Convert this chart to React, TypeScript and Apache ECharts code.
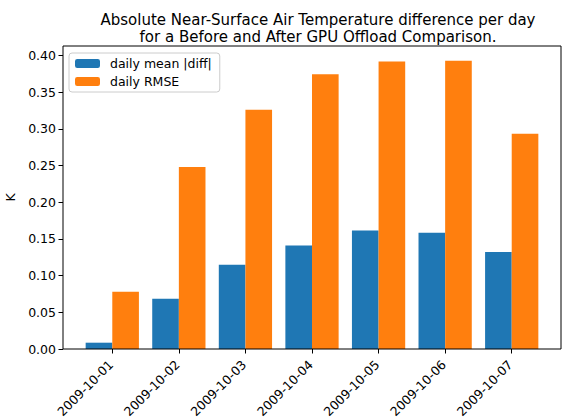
import React, { useEffect, useRef } from "react";
import * as echarts from "echarts";

const dates = ["2009-10-01", "2009-10-02", "2009-10-03", "2009-10-04", "2009-10-05", "2009-10-06", "2009-10-07"];
const meanDiff = [0.0086, 0.0685, 0.1148, 0.1412, 0.1616, 0.1584, 0.1321];
const rmse = [0.078, 0.248, 0.326, 0.3746, 0.3919, 0.3928, 0.2933];
const yTicks = [0, 0.05, 0.1, 0.15, 0.2, 0.25, 0.3, 0.35, 0.4];

const FONT = "DejaVu Sans";

export default function App() {
  const ref = useRef<HTMLDivElement>(null);
  useEffect(() => {
    if (!ref.current) return;
    const chart = echarts.init(ref.current, null, { renderer: "svg" });
    chart.setOption({
      animation: false,
      backgroundColor: "#ffffff",
      textStyle: { fontFamily: FONT },
      title: {
        text: "Absolute Near-Surface Air Temperature difference per day\nfor a Before and After GPU Offload Comparison.",
        left: 313,
        top: 6,
        textAlign: "center",
        textStyle: { fontFamily: FONT, fontSize: 15, fontWeight: "normal", color: "#000", lineHeight: 17 },
      },
      legend: {
        orient: "vertical",
        left: 69,
        top: 53,
        itemWidth: 25,
        itemHeight: 9,
        itemGap: 5,
        padding: [4, 8, 4, 6],
        borderColor: "#cccccc",
        borderWidth: 1,
        borderRadius: 3,
        backgroundColor: "rgba(255,255,255,0.8)",
        textStyle: { fontFamily: FONT, fontSize: 12.5, color: "#000", padding: [0, 0, 0, 5] },
        data: ["daily mean |diff|", "daily RMSE"],
      },
      grid: { left: 79, right: 17, top: 46, bottom: 70, containLabel: false, outerBoundsMode: "none" },
      xAxis: {
        type: "category",
        data: dates,
        boundaryGap: true,
        axisLine: { show: false },
        axisTick: { show: true, alignWithLabel: true, length: 4.5, lineStyle: { color: "#000" } },
        axisLabel: {
          rotate: 45,
          fontFamily: FONT,
          fontSize: 12.5,
          color: "#000",
          margin: 12,
          padding: [0, 2, 0, 0],
        },
        splitLine: { show: false },
      },
      yAxis: {
        type: "value",
        min: 0,
        max: 0.413,
        interval: 0.05,
        offset: 16,
        name: "K",
        nameLocation: "middle",
        nameGap: 37,
        nameTextStyle: { fontFamily: FONT, fontSize: 12.5, color: "#000" },
        axisLine: { show: false },
        axisTick: { show: true, length: 4.5, lineStyle: { color: "#000" }, customValues: yTicks },
        axisLabel: {
          fontFamily: FONT,
          fontSize: 12.5,
          color: "#000",
          margin: 7,
          customValues: yTicks,
          formatter: (v: number) => v.toFixed(2),
        },
        splitLine: { show: false },
      },
      graphic: [
        {
          type: "rect",
          shape: { x: 63, y: 46, width: 498, height: 303 },
          style: { fill: "none", stroke: "#000", lineWidth: 1 },
          z: 100,
          silent: true,
        },
      ],
      series: [
        {
          name: "daily mean |diff|",
          type: "bar",
          data: meanDiff,
          itemStyle: { color: "#1f77b4" },
          barGap: "0%",
          barCategoryGap: "20%",
        },
        {
          name: "daily RMSE",
          type: "bar",
          data: rmse,
          itemStyle: { color: "#ff7f0e" },
          barGap: "0%",
          barCategoryGap: "20%",
        },
      ],
    });
    return () => chart.dispose();
  }, []);
  return <div ref={ref} style={{ width: 562, height: 419, position: "absolute", left: 0, top: 0 }} />;
}
